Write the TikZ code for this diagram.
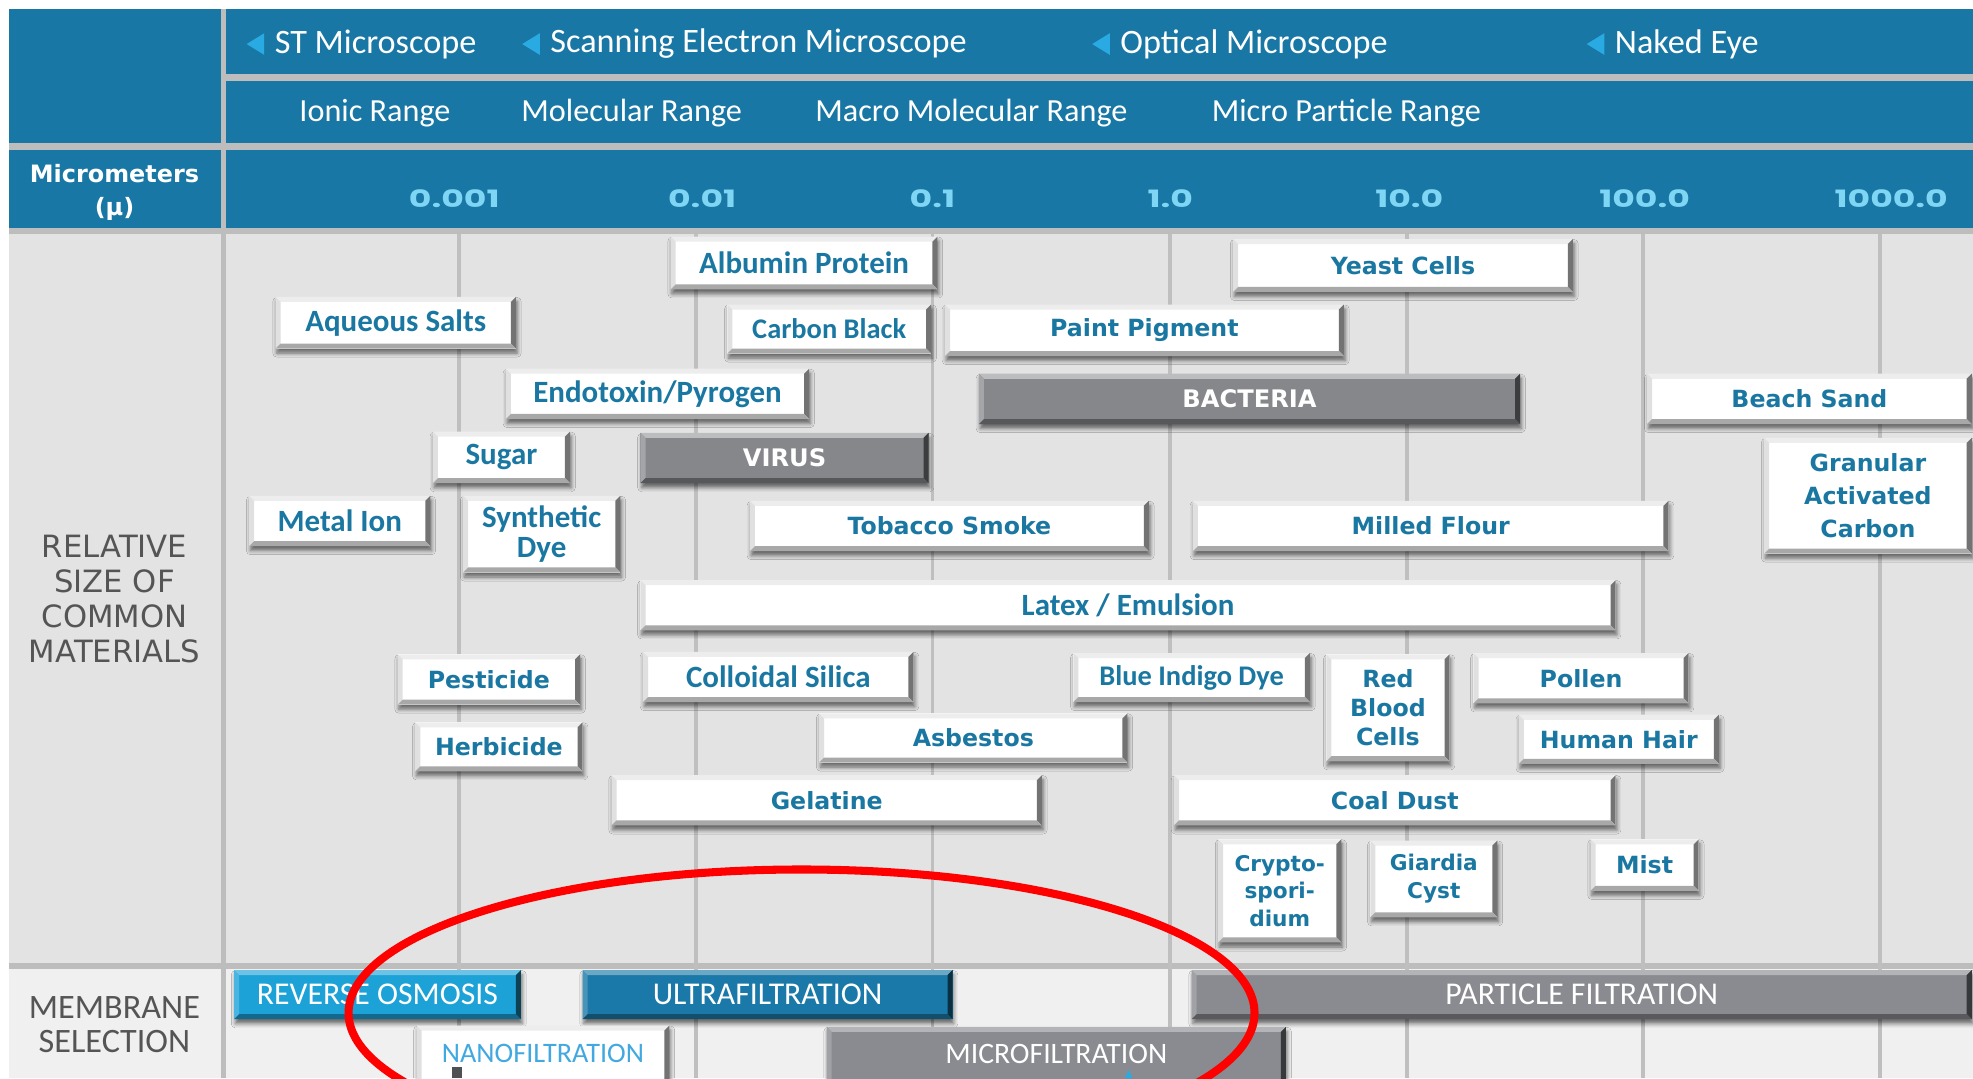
\documentclass[tikz,border=0pt]{standalone}
\usepackage{fontspec}
\setmainfont{Carlito}
\newfontfamily\widefont{DejaVu Sans}
\newfontfamily\tickfont{Poppins}[FakeStretch=1.45]
\usetikzlibrary{shadows.blur}

\definecolor{hdrblue}{HTML}{1877A4}
\definecolor{sepgray}{HTML}{BDBDBD}
\definecolor{bodygray}{HTML}{E3E3E3}
\definecolor{memback}{HTML}{F0F0F0}
\definecolor{gridgray}{HTML}{BFBFBF}
\definecolor{tickcyan}{HTML}{7FD6F4}
\definecolor{boxtext}{HTML}{1A77A2}
\definecolor{labelgray}{HTML}{555555}
\definecolor{tricyan}{HTML}{2AAAE2}
\definecolor{darkface}{HTML}{86878B}
\definecolor{rocyan}{HTML}{1DA2D8}
\definecolor{ufblue}{HTML}{1A79A8}
\definecolor{pfgray}{HTML}{8A8B90}
\definecolor{nanotext}{HTML}{42A9E0}

\begin{document}
\begin{tikzpicture}
[ x=0.5pt, y=-0.5pt
, span/.style n args={4}{at={({(#1+#3)/2},{(#2+#4)/2})},
    minimum width={(#3-#1)*0.5pt}, minimum height={(#4-#2)*0.5pt}}
, bevel/.style n args={4}{path picture={
    \coordinate (ptl) at (path picture bounding box.north west);
    \coordinate (ptr) at (path picture bounding box.north east);
    \coordinate (pbl) at (path picture bounding box.south west);
    \coordinate (pbr) at (path picture bounding box.south east);
    \fill[#1] (ptl) -- (ptr) -- ([shift={(-2pt,-2pt)}]ptr) -- ([shift={(2pt,-2pt)}]ptl) -- cycle;
    \fill[#2] (ptl) -- (pbl) -- ([shift={(2pt,2pt)}]pbl) -- ([shift={(2pt,-2pt)}]ptl) -- cycle;
    \fill[#3] (ptr) -- (pbr) -- ([shift={(-2pt,2pt)}]pbr) -- ([shift={(-2pt,-2pt)}]ptr) -- cycle;
    \fill[#4] (pbl) -- (pbr) -- ([shift={(-2pt,2pt)}]pbr) -- ([shift={(2pt,2pt)}]pbl) -- cycle;}}
, matbox/.style={rectangle, fill=white, inner sep=0pt, align=center, text=boxtext,
    font=\fontsize{12.3}{12}\bfseries,
    blur shadow={shadow xshift=0.5pt, shadow yshift=-1.8pt, shadow blur radius=1.6pt, shadow opacity=55},
    bevel={white!93!black}{white!88!black}{white!45!black}{white!66!black}}
, smallbox/.style={matbox, font=\fontsize{11.3}{12}\bfseries}
, widebox/.style={matbox, font=\widefont\bfseries\fontsize{9.4}{11.5}\selectfont}
, darkbox/.style={matbox, fill=darkface, text=white, font=\widefont\bfseries\fontsize{9.6}{11.5}\selectfont,
    bevel={darkface!55!white}{darkface!75!white}{darkface!45!black}{darkface!65!black}}
, membox/.style={matbox, fill=#1, text=white, font=\fontsize{12.6}{13}\selectfont,
    bevel={#1!65!white}{#1!80!white}{#1!40!black}{#1!65!black}}
, hdrlbl/.style={inner sep=0pt, text=white, font=\fontsize{13.6}{14}\selectfont}
, rangelbl/.style={inner sep=0pt, text=white, font=\fontsize{12.8}{13}\selectfont}
, ticklbl/.style={inner sep=0pt, text=tickcyan, font=\tickfont\bfseries\fontsize{9.5}{10}\selectfont}
, rowlabel/.style={inner sep=0pt, align=center, text=labelgray}
, scopetri/.style={fill=tricyan}
, redring/.style={draw=red, line width=3.2pt}
]
\clip (0,0) rectangle (1568,857);
\fill[white] (0,0) rectangle (1568,857);
% Header band:
\fill[hdrblue] (7,7) rectangle (1568,181);
\fill[sepgray] (180,59) rectangle (1568,64);
\fill[sepgray] (7,114) rectangle (1568,119);
\fill[sepgray] (7,181) rectangle (1568,186);
% Body and membrane bands:
\fill[bodygray] (7,186) rectangle (1568,765);
\fill[sepgray] (7,765) rectangle (1568,770);
\fill[memback] (7,770) rectangle (1568,857);
\fill[sepgray] (176,7) rectangle (180,857);
\foreach \x in {365,553,741,930,1118,1306,1494}
  \fill[gridgray] (\x-1.5,186) rectangle (\x+1.5,857);

% Microscope row:
\node (stmic) [hdrlbl, anchor=west] at (218,35) {ST Microscope};
\node (semic) [hdrlbl, anchor=west] at (437,35) {Scanning Electron Microscope};
\node (opmic) [hdrlbl, anchor=west] at (890,35) {Optical Microscope};
\node (naked) [hdrlbl, anchor=west] at (1283,35) {Naked Eye};
\foreach \n in {stmic,semic,opmic,naked}
  \fill[scopetri] ([xshift=-4pt,yshift=4.3pt]\n.west) -- ([xshift=-4pt,yshift=-4.3pt]\n.west)
    -- ([xshift=-11pt]\n.west) -- cycle;
% Range row:
\node (ionic) [rangelbl] at (298,90) {Ionic Range};
\node (molec) [rangelbl] at (502,90) {Molecular Range};
\node (macro) [rangelbl] at (772,90) {Macro Molecular Range};
\node (micro) [rangelbl] at (1070,90) {Micro Particle Range};
% Scale row:
\node (unitlbl) [rowlabel, text=white, font=\widefont\bfseries\fontsize{9.5}{13}\selectfont]
  at (91,153) {Micrometers\\(µ)};
\foreach \v/\x [count=\i] in {0.001/361,0.01/558,0.1/741,1.0/930,10.0/1120,100.0/1307,1000.0/1503}
  \node (tick\i) [ticklbl] at (\x,158) {\v};

% Row labels:
\node (relsize) [rowlabel, font=\widefont\fontsize{12.2}{13.8}\selectfont]
  at (91,476) {RELATIVE\\SIZE OF\\COMMON\\MATERIALS};
\node (membsel) [rowlabel, font=\fontsize{13.6}{13.5}\selectfont]
  at (91,814) {MEMBRANE\\SELECTION};

% Common materials:
\node (albumin) [matbox, span={533}{188}{745}{230}] {Albumin Protein};
\node (yeast) [widebox, span={980}{190}{1250}{232}] {Yeast Cells};
\node (salts) [matbox, span={219}{236}{410}{277}] {Aqueous Salts};
\node (carbon) [smallbox, span={578}{242}{740}{281}] {Carbon Black};
\node (paint) [widebox, span={751}{242}{1068}{283}] {Paint Pigment};
\node (endotox) [matbox, span={402}{293}{643}{333}] {Endotoxin/Pyrogen};
\node (bacteria) [darkbox, span={778}{297}{1208}{337}] {BACTERIA};
\node (sand) [widebox, span={1309}{297}{1567}{337}] {Beach Sand};
\node (sugar) [matbox, span={344}{343}{453}{384}] {Sugar};
\node (virus) [darkbox, span={509}{344}{738}{384}] {VIRUS};
\node (gac) [widebox, span={1402}{348}{1567}{440}, font=\widefont\bfseries\fontsize{9.4}{13}\selectfont]
  {Granular\\Activated\\Carbon};
\node (metal) [matbox, span={198}{394}{342}{434}] {Metal Ion};
\node (syndye) [matbox, span={368}{394}{493}{455}] {Synthetic\\Dye};
\node (tobacco) [widebox, span={596}{398}{913}{438}] {Tobacco Smoke};
\node (flour) [widebox, span={948}{398}{1326}{438}] {Milled Flour};
\node (latex) [matbox, span={509}{461}{1284}{501}] {Latex / Emulsion};
\node (pesticide) [widebox, span={316}{520}{461}{560}] {Pesticide};
\node (silica) [matbox, span={511}{518}{726}{558}] {Colloidal Silica};
\node (indigo) [smallbox, span={853}{519}{1041}{558}] {Blue Indigo Dye};
\node (blood) [widebox, span={1054}{520}{1152}{605}] {Red\\Blood\\Cells};
\node (pollen) [widebox, span={1171}{519}{1342}{559}] {Pollen};
\node (herbicide) [widebox, span={330}{574}{463}{613}] {Herbicide};
\node (asbestos) [widebox, span={651}{567}{896}{606}] {Asbestos};
\node (hair) [widebox, span={1207}{568}{1366}{607}] {Human Hair};
\node (gelatine) [widebox, span={486}{616}{828}{656}] {Gelatine};
\node (coal) [widebox, span={933}{616}{1284}{656}] {Coal Dust};
\node (crypto) [widebox, span={968}{667}{1066}{749}, font=\widefont\bfseries\fontsize{8.6}{11}\selectfont]
  {Crypto-\\spori-\\dium};
\node (giardia) [widebox, span={1089}{668}{1190}{729}, font=\widefont\bfseries\fontsize{8.6}{11}\selectfont]
  {Giardia\\Cyst};
\node (mist) [widebox, span={1264}{667}{1350}{708}] {Mist};

% Membrane selection:
\node (rosmo) [membox=rocyan, span={186}{771}{414}{810}] {REVERSE OSMOSIS};
\node (ultra) [membox=ufblue, span={463}{771}{757}{810}] {ULTRAFILTRATION};
\node (partic) [membox=pfgray, span={947}{771}{1567}{810}] {PARTICLE FILTRATION};
\node (nano) [matbox, text=nanotext, font=\fontsize{11.2}{12}\selectfont, span={331}{815}{532}{862}]
  {\raisebox{1.5pt}{NANOFILTRATION}};
\node (microf) [membox=pfgray, font=\fontsize{11.8}{12}\selectfont, span={657}{816}{1022}{862}]
  {\raisebox{1.5pt}{MICROFILTRATION}};
\fill[darkface!60!black] (359,848) rectangle (367,857);
\fill[tricyan] (894,857) -- (897,850) -- (900,857) -- cycle;

% Highlight ring:
\draw[redring] (637,805) ellipse [x radius=360, y radius=114];
\end{tikzpicture}
\end{document}
